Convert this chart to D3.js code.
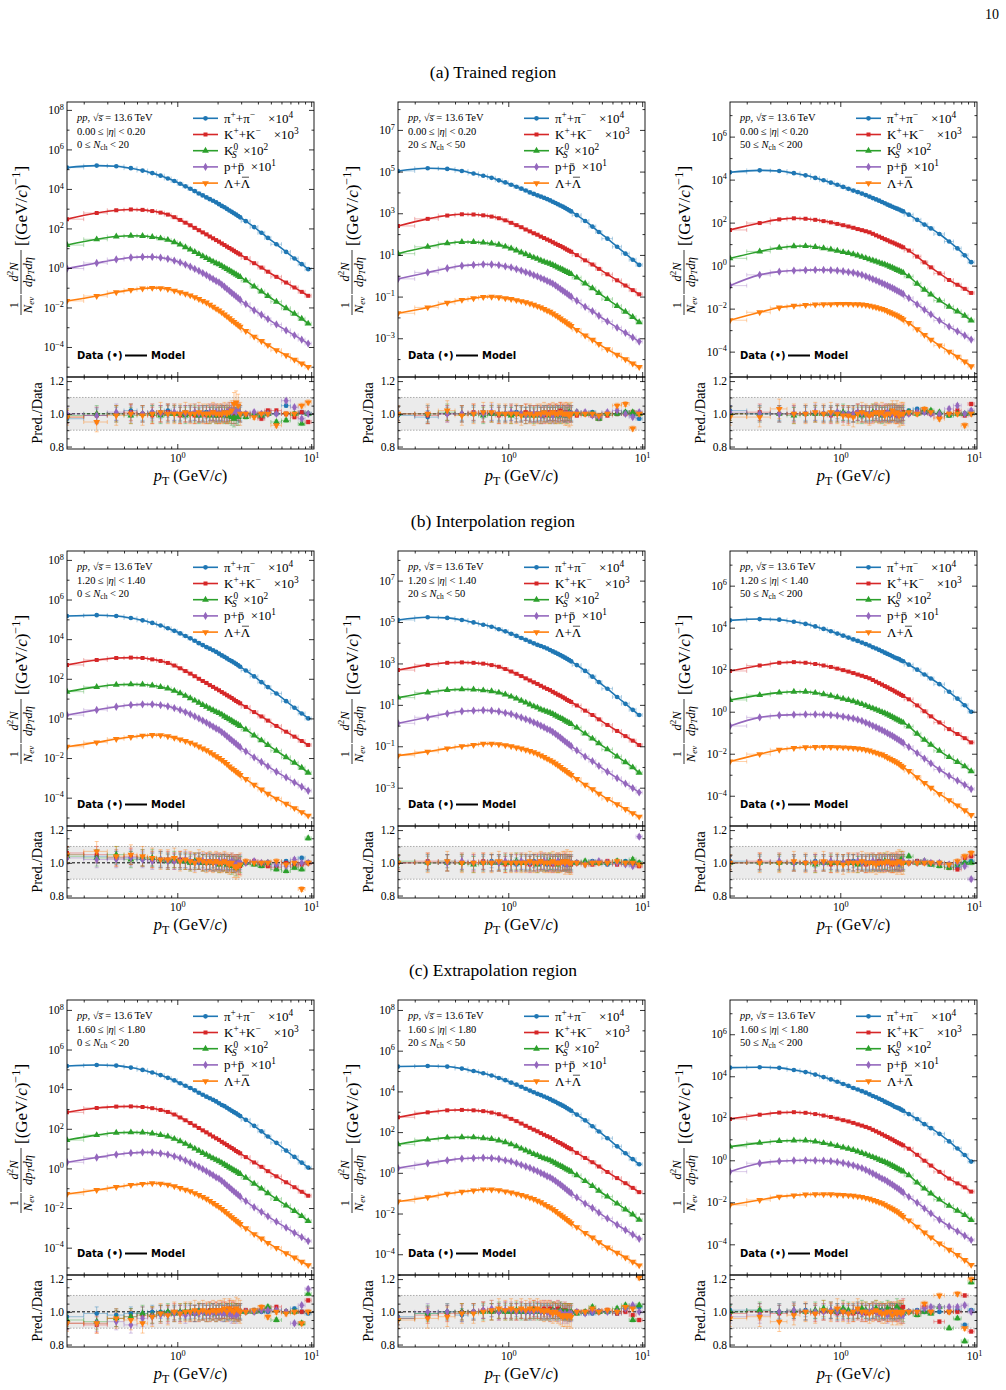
<!DOCTYPE html>
<html><head><meta charset="utf-8">
<script src="https://cdn.jsdelivr.net/npm/d3@7"></script>
<style>
body{margin:0;background:#fff;}
svg{white-space:pre;}
</style></head><body>
<svg id="fig" width="1006" height="1390"></svg>
<script>
// pT bin centres and edges (GeV/c)
const pT = [0.15,0.25,0.35,0.45,0.55,0.65,0.75,0.85,0.95,1.05,1.15,1.25,1.35,1.45,1.55,1.65,1.75,1.85,1.95,2.05,2.15,2.25,2.35,2.45,2.55,2.65,2.75,2.85,2.95,3.25,3.75,4.25,4.75,5.5,6.5,7.5,8.5,9.5];
const pTEdges = [0.1,0.2,0.3,0.4,0.5,0.6,0.7,0.8,0.9,1.0,1.1,1.2,1.3,1.4,1.5,1.6,1.7,1.8,1.9,2.0,2.1,2.2,2.3,2.4,2.5,2.6,2.7,2.8,2.9,3.0,3.5,4.0,4.5,5.0,6,7,8,9,10];

const speciesColors = ["#1f77b4","#d62728","#2ca02c","#9467bd","#ff7f0e"];
const regionTitles = ["(a) Trained region","(b) Interpolation region","(c) Extrapolation region"];
const etaRanges = [["0.00","0.20"],["1.20","1.40"],["1.60","1.80"]];
const nchRanges = [["0","20"],["20","50"],["50","200"]];
// log10 of the y-axis limits, [row][column]
const yLogMin = [[-5.52,-4.86,-5.18],[-5.43,-4.85,-5.44],[-5.38,-5.02,-5.46]];
const yLogMax = [[8.40,8.34,7.61],[8.45,8.43,7.65],[8.50,8.49,7.63]];
// which decades carry labels: 0 = even, 1 = odd
const yLabelOdd = [[0,1,0],[0,1,0],[0,0,0]];

// ---- log10 of the scaled yields (pi x1e4, K x1e3, K0s x1e2, p x10, Lambda) ----
// (a) trained region
const a1Pi  = [5.08,5.18,5.15,5.05,4.93,4.80,4.67,4.53,4.40,4.26, 4.13,4.01,3.89,3.77,3.67,3.57,3.48,3.40,3.32,3.23, 3.14,3.07,2.99,2.91,2.84,2.77,2.70,2.63,2.56,2.37, 2.07,1.78,1.52,1.20,0.81,0.48,0.19,-0.06];
const a1K   = [2.47,2.78,2.92,2.96,2.94,2.88,2.80,2.70,2.57,2.43, 2.29,2.16,2.03,1.91,1.80,1.70,1.59,1.50,1.41,1.33, 1.24,1.16,1.08,1.01,0.94,0.87,0.80,0.74,0.68,0.50, 0.24,0.02,-0.19,-0.45,-0.74,-0.99,-1.21,-1.41];
const a1K0s = [1.16,1.45,1.59,1.63,1.62,1.57,1.50,1.42,1.30,1.18, 1.05,0.93,0.81,0.70,0.59,0.50,0.40,0.32,0.24,0.18, 0.10,0.02,-0.06,-0.13,-0.20,-0.27,-0.33,-0.40,-0.46,-0.64, -0.94,-1.19,-1.42,-1.71,-2.04,-2.32,-2.57,-2.82];
const a1P   = [-0.03,0.25,0.43,0.53,0.56,0.56,0.52,0.46,0.37,0.28, 0.17,0.06,-0.05,-0.15,-0.26,-0.36,-0.47,-0.56,-0.66,-0.73, -0.84,-0.95,-1.06,-1.16,-1.26,-1.35,-1.44,-1.53,-1.61,-1.83, -2.14,-2.37,-2.59,-2.86,-3.16,-3.41,-3.63,-3.83];
const a1Lam = [-1.67,-1.42,-1.23,-1.11,-1.04,-1.01,-1.02,-1.07,-1.15,-1.23, -1.31,-1.39,-1.48,-1.57,-1.67,-1.75,-1.86,-1.96,-2.06,-2.15, -2.25,-2.35,-2.45,-2.55,-2.65,-2.73,-2.82,-2.90,-2.98,-3.19, -3.48,-3.70,-3.91,-4.16,-4.42,-4.64,-4.84,-5.01];
const a2Pi  = [5.03,5.16,5.13,5.03,4.91,4.80,4.70,4.58,4.48,4.37, 4.27,4.18,4.09,4.00,3.93,3.86,3.80,3.74,3.68,3.62, 3.55,3.49,3.43,3.37,3.32,3.26,3.20,3.14,3.09,2.91, 2.63,2.36,2.10,1.78,1.39,1.06,0.77,0.52];
const a2K   = [2.39,2.73,2.89,2.95,2.94,2.90,2.84,2.76,2.66,2.54, 2.43,2.33,2.22,2.13,2.04,1.97,1.88,1.81,1.74,1.68, 1.61,1.54,1.48,1.43,1.37,1.31,1.25,1.20,1.15,0.99, 0.74,0.54,0.33,0.07,-0.22,-0.47,-0.69,-0.89];
const a2K0s = [1.06,1.39,1.56,1.62,1.62,1.59,1.55,1.49,1.40,1.31, 1.21,1.12,1.03,0.95,0.87,0.81,0.73,0.67,0.62,0.58, 0.52,0.46,0.39,0.34,0.29,0.23,0.18,0.13,0.08,-0.09, -0.37,-0.60,-0.83,-1.12,-1.45,-1.73,-1.98,-2.23];
const a2P   = [-0.15,0.16,0.36,0.48,0.52,0.55,0.54,0.51,0.45,0.40, 0.32,0.25,0.17,0.11,0.03,-0.03,-0.11,-0.17,-0.25,-0.31, -0.38,-0.46,-0.55,-0.63,-0.71,-0.79,-0.86,-0.94,-1.00,-1.20, -1.49,-1.70,-1.92,-2.19,-2.49,-2.74,-2.96,-3.16];
const a2Lam = [-1.80,-1.52,-1.30,-1.16,-1.08,-1.02,-1.01,-1.03,-1.08,-1.12, -1.17,-1.22,-1.27,-1.33,-1.39,-1.46,-1.52,-1.60,-1.67,-1.73, -1.81,-1.89,-1.97,-2.05,-2.13,-2.20,-2.28,-2.34,-2.41,-2.60, -2.87,-3.07,-3.28,-3.53,-3.79,-4.01,-4.21,-4.38];
const a3Pi  = [4.34,4.43,4.40,4.30,4.20,4.08,3.97,3.86,3.76,3.66, 3.57,3.49,3.42,3.35,3.28,3.21,3.14,3.08,3.02,2.96, 2.90,2.84,2.79,2.74,2.69,2.65,2.61,2.56,2.52,2.37, 2.13,1.91,1.73,1.47,1.12,0.80,0.48,0.16];
const a3K   = [1.66,1.98,2.15,2.20,2.18,2.13,2.07,2.01,1.94,1.88, 1.82,1.76,1.70,1.65,1.60,1.55,1.48,1.41,1.35,1.29, 1.23,1.18,1.12,1.08,1.03,0.98,0.94,0.89,0.85,0.70, 0.42,0.15,-0.08,-0.36,-0.67,-0.89,-1.08,-1.27];
const a3K0s = [0.34,0.66,0.83,0.90,0.91,0.87,0.81,0.75,0.69,0.63, 0.58,0.53,0.47,0.41,0.35,0.29,0.24,0.19,0.14,0.09, 0.05,0.00,-0.05,-0.10,-0.15,-0.20,-0.24,-0.29,-0.33,-0.50, -0.84,-1.12,-1.34,-1.62,-1.91,-2.13,-2.33,-2.55];
const a3P   = [-0.93,-0.43,-0.28,-0.23,-0.21,-0.20,-0.20,-0.21,-0.23,-0.26, -0.30,-0.33,-0.38,-0.43,-0.50,-0.56,-0.63,-0.69,-0.75,-0.81, -0.87,-0.93,-0.99,-1.04,-1.10,-1.16,-1.21,-1.27,-1.32,-1.51, -1.80,-2.05,-2.27,-2.55,-2.84,-3.06,-3.25,-3.44];
const a3Lam = [-2.54,-2.17,-1.95,-1.87,-1.83,-1.81,-1.80,-1.79,-1.78,-1.78, -1.78,-1.79,-1.80,-1.81,-1.83,-1.86,-1.90,-1.94,-1.98,-2.01, -2.06,-2.12,-2.17,-2.22,-2.27,-2.32,-2.38,-2.44,-2.50,-2.67, -2.96,-3.22,-3.44,-3.71,-4.00,-4.24,-4.46,-4.68];
// (b) interpolation region
const b1Pi  = [5.17,5.21,5.17,5.07,4.95,4.82,4.69,4.55,4.42,4.29, 4.16,4.04,3.92,3.80,3.70,3.60,3.52,3.44,3.36,3.27, 3.18,3.11,3.03,2.95,2.89,2.82,2.75,2.68,2.61,2.42, 2.12,1.83,1.58,1.26,0.87,0.54,0.25,0.00];
const b1K   = [2.70,2.95,3.05,3.07,3.05,2.98,2.90,2.80,2.67,2.53, 2.39,2.26,2.13,2.00,1.89,1.79,1.68,1.59,1.50,1.42, 1.33,1.25,1.17,1.10,1.03,0.95,0.88,0.82,0.76,0.58, 0.32,0.10,-0.11,-0.38,-0.67,-0.92,-1.14,-1.34];
const b1K0s = [1.35,1.59,1.70,1.72,1.71,1.66,1.59,1.51,1.39,1.27, 1.14,1.02,0.90,0.79,0.68,0.59,0.49,0.41,0.33,0.27, 0.19,0.10,0.02,-0.05,-0.12,-0.19,-0.25,-0.32,-0.38,-0.56, -0.86,-1.11,-1.34,-1.63,-1.96,-2.24,-2.49,-2.74];
const b1P   = [0.17,0.43,0.59,0.68,0.71,0.71,0.67,0.61,0.52,0.43, 0.32,0.21,0.10,0.00,-0.11,-0.21,-0.32,-0.41,-0.51,-0.58, -0.69,-0.79,-0.90,-1.00,-1.10,-1.19,-1.28,-1.37,-1.45,-1.66, -1.97,-2.20,-2.42,-2.69,-2.98,-3.23,-3.45,-3.65];
const b1Lam = [-1.43,-1.21,-1.04,-0.94,-0.87,-0.84,-0.85,-0.90,-0.98,-1.06, -1.14,-1.22,-1.31,-1.42,-1.52,-1.60,-1.71,-1.81,-1.91,-2.00, -2.10,-2.20,-2.30,-2.42,-2.52,-2.60,-2.69,-2.77,-2.85,-3.06, -3.35,-3.59,-3.80,-4.05,-4.31,-4.53,-4.73,-4.91];
const b2Pi  = [5.10,5.23,5.20,5.10,4.98,4.87,4.77,4.65,4.55,4.43, 4.33,4.23,4.14,4.05,3.97,3.90,3.84,3.78,3.72,3.65, 3.58,3.52,3.46,3.40,3.34,3.28,3.22,3.16,3.10,2.92, 2.64,2.36,2.10,1.78,1.38,1.05,0.76,0.51];
const b2K   = [2.68,2.93,3.03,3.05,3.03,2.99,2.92,2.84,2.73,2.61, 2.50,2.39,2.28,2.18,2.09,2.01,1.92,1.84,1.77,1.71, 1.63,1.56,1.49,1.44,1.37,1.31,1.24,1.19,1.14,0.97, 0.72,0.51,0.30,0.03,-0.26,-0.51,-0.73,-0.94];
const b2K0s = [1.35,1.60,1.72,1.75,1.74,1.70,1.66,1.59,1.50,1.40, 1.30,1.20,1.11,1.02,0.93,0.87,0.78,0.72,0.67,0.62, 0.56,0.49,0.42,0.36,0.31,0.24,0.18,0.13,0.07,-0.10, -0.39,-0.63,-0.86,-1.15,-1.49,-1.77,-2.02,-2.28];
const b2P   = [0.11,0.40,0.58,0.69,0.72,0.74,0.72,0.68,0.61,0.56, 0.47,0.39,0.31,0.24,0.15,0.08,-0.01,-0.08,-0.17,-0.22, -0.31,-0.40,-0.49,-0.58,-0.67,-0.76,-0.84,-0.92,-0.99,-1.20, -1.50,-1.72,-1.95,-2.23,-2.54,-2.80,-3.02,-3.23];
const b2Lam = [-1.45,-1.26,-1.10,-1.00,-0.94,-0.88,-0.88,-0.90,-0.95,-1.00, -1.06,-1.11,-1.17,-1.23,-1.29,-1.36,-1.44,-1.52,-1.60,-1.67, -1.75,-1.83,-1.92,-2.00,-2.09,-2.16,-2.24,-2.31,-2.38,-2.58, -2.86,-3.07,-3.29,-3.54,-3.80,-4.03,-4.23,-4.40];
const b3Pi  = [4.35,4.41,4.38,4.28,4.18,4.06,3.94,3.83,3.72,3.62, 3.53,3.44,3.37,3.29,3.22,3.15,3.07,3.01,2.94,2.88, 2.81,2.75,2.70,2.64,2.58,2.54,2.50,2.44,2.40,2.24, 2.00,1.77,1.58,1.31,0.95,0.62,0.31,0.00];
const b3K   = [1.94,2.20,2.33,2.36,2.33,2.27,2.20,2.13,2.05,1.98, 1.91,1.84,1.77,1.71,1.65,1.59,1.51,1.43,1.36,1.29, 1.22,1.16,1.09,1.04,0.97,0.91,0.86,0.80,0.75,0.59, 0.30,0.02,-0.22,-0.51,-0.83,-1.06,-1.26,-1.46];
const b3K0s = [0.56,0.79,0.91,0.95,0.95,0.90,0.83,0.76,0.69,0.62, 0.56,0.50,0.43,0.36,0.29,0.22,0.16,0.10,0.04,-0.02, -0.07,-0.13,-0.19,-0.25,-0.31,-0.37,-0.42,-0.48,-0.52,-0.70, -1.05,-1.34,-1.57,-1.86,-2.16,-2.39,-2.60,-2.83];
const b3P   = [-0.68,-0.27,-0.17,-0.14,-0.13,-0.13,-0.14,-0.16,-0.19,-0.23, -0.28,-0.32,-0.38,-0.44,-0.52,-0.59,-0.67,-0.74,-0.81,-0.88, -0.95,-1.02,-1.09,-1.15,-1.22,-1.29,-1.35,-1.42,-1.48,-1.68, -1.97,-2.23,-2.46,-2.75,-3.05,-3.28,-3.48,-3.68];
const b3Lam = [-2.37,-2.02,-1.81,-1.73,-1.69,-1.68,-1.68,-1.68,-1.69,-1.70, -1.71,-1.73,-1.75,-1.77,-1.81,-1.85,-1.90,-1.95,-2.00,-2.04, -2.11,-2.18,-2.24,-2.30,-2.36,-2.42,-2.49,-2.57,-2.64,-2.82, -3.12,-3.39,-3.62,-3.91,-4.21,-4.46,-4.69,-4.92];
// (c) extrapolation region
const c1Pi  = [5.17,5.22,5.19,5.09,4.97,4.84,4.71,4.57,4.44,4.30, 4.17,4.06,3.94,3.82,3.72,3.62,3.54,3.46,3.38,3.29, 3.20,3.14,3.06,2.98,2.91,2.84,2.78,2.71,2.64,2.45, 2.15,1.87,1.61,1.29,0.90,0.58,0.29,0.04];
const c1K   = [2.83,3.05,3.12,3.13,3.10,3.04,2.95,2.85,2.72,2.57, 2.43,2.29,2.16,2.04,1.92,1.82,1.71,1.61,1.52,1.44, 1.34,1.26,1.18,1.10,1.03,0.96,0.88,0.82,0.76,0.57, 0.30,0.08,-0.14,-0.40,-0.70,-0.95,-1.18,-1.38];
const c1K0s = [1.43,1.68,1.80,1.82,1.81,1.76,1.69,1.61,1.49,1.37, 1.24,1.12,1.00,0.89,0.78,0.69,0.59,0.51,0.43,0.36, 0.28,0.20,0.12,0.05,-0.02,-0.09,-0.15,-0.22,-0.28,-0.47, -0.77,-1.02,-1.25,-1.54,-1.87,-2.15,-2.41,-2.66];
const c1P   = [0.31,0.55,0.70,0.78,0.81,0.81,0.76,0.70,0.61,0.52, 0.40,0.29,0.18,0.08,-0.04,-0.14,-0.25,-0.34,-0.45,-0.52, -0.63,-0.74,-0.86,-0.96,-1.06,-1.16,-1.25,-1.34,-1.42,-1.65, -1.96,-2.19,-2.42,-2.69,-2.99,-3.25,-3.47,-3.67];
const c1Lam = [-1.29,-1.09,-0.94,-0.84,-0.78,-0.75,-0.77,-0.82,-0.90,-0.99, -1.07,-1.15,-1.25,-1.34,-1.44,-1.53,-1.64,-1.75,-1.85,-1.94, -2.05,-2.15,-2.26,-2.36,-2.46,-2.55,-2.64,-2.72,-2.81,-3.02, -3.32,-3.54,-3.76,-4.01,-4.28,-4.50,-4.71,-4.88];
const c2Pi  = [5.22,5.25,5.22,5.12,5.00,4.89,4.78,4.66,4.55,4.43, 4.33,4.23,4.13,4.04,3.96,3.88,3.82,3.75,3.69,3.62, 3.55,3.49,3.42,3.36,3.30,3.24,3.17,3.11,3.05,2.86, 2.58,2.29,2.03,1.70,1.30,0.96,0.67,0.42];
const c2K   = [2.73,2.97,3.07,3.09,3.07,3.03,2.96,2.88,2.77,2.65, 2.54,2.42,2.31,2.21,2.12,2.04,1.95,1.87,1.80,1.74, 1.66,1.58,1.51,1.46,1.39,1.33,1.26,1.21,1.16,0.98, 0.73,0.52,0.31,0.04,-0.26,-0.51,-0.74,-0.95];
const c2K0s = [1.40,1.63,1.73,1.75,1.74,1.70,1.66,1.59,1.50,1.40, 1.30,1.19,1.10,1.01,0.92,0.86,0.77,0.71,0.66,0.61, 0.54,0.47,0.40,0.34,0.29,0.22,0.16,0.11,0.05,-0.12, -0.41,-0.65,-0.88,-1.17,-1.51,-1.80,-2.05,-2.31];
const c2P   = [0.23,0.47,0.61,0.70,0.72,0.74,0.72,0.68,0.61,0.56, 0.47,0.39,0.31,0.24,0.15,0.08,-0.01,-0.08,-0.17,-0.22, -0.31,-0.40,-0.49,-0.58,-0.67,-0.76,-0.85,-0.93,-1.00,-1.21, -1.51,-1.73,-1.96,-2.24,-2.55,-2.81,-3.03,-3.24];
const c2Lam = [-1.41,-1.20,-1.03,-0.93,-0.87,-0.82,-0.82,-0.85,-0.91,-0.97, -1.03,-1.09,-1.15,-1.22,-1.29,-1.37,-1.45,-1.54,-1.63,-1.70, -1.79,-1.88,-1.98,-2.06,-2.15,-2.23,-2.32,-2.39,-2.47,-2.67, -2.96,-3.18,-3.41,-3.67,-3.93,-4.16,-4.37,-4.55];
const c3Pi  = [4.41,4.43,4.40,4.30,4.20,4.08,3.96,3.85,3.74,3.63, 3.54,3.44,3.37,3.29,3.22,3.14,3.06,3.00,2.93,2.87, 2.79,2.73,2.68,2.62,2.55,2.51,2.47,2.41,2.36,2.20, 1.96,1.72,1.53,1.26,0.90,0.56,0.25,-0.06];
const c3K   = [1.97,2.17,2.27,2.29,2.26,2.20,2.13,2.06,1.98,1.91, 1.85,1.78,1.71,1.65,1.59,1.53,1.45,1.38,1.31,1.24, 1.17,1.11,1.04,0.99,0.92,0.86,0.81,0.76,0.71,0.55, 0.26,-0.02,-0.25,-0.55,-0.87,-1.10,-1.29,-1.49];
const c3K0s = [0.65,0.83,0.92,0.94,0.94,0.89,0.82,0.75,0.68,0.61, 0.55,0.49,0.42,0.35,0.28,0.21,0.15,0.09,0.03,-0.03, -0.08,-0.14,-0.20,-0.26,-0.32,-0.38,-0.43,-0.49,-0.53,-0.71, -1.06,-1.35,-1.58,-1.87,-2.17,-2.40,-2.61,-2.84];
const c3P   = [-0.54,-0.14,-0.04,-0.01,0.00,-0.01,-0.02,-0.04,-0.08,-0.13, -0.19,-0.24,-0.31,-0.37,-0.46,-0.54,-0.63,-0.71,-0.79,-0.87, -0.93,-1.01,-1.09,-1.16,-1.24,-1.31,-1.38,-1.46,-1.53,-1.74, -2.02,-2.29,-2.53,-2.83,-3.14,-3.38,-3.59,-3.79];
const c3Lam = [-2.13,-1.89,-1.73,-1.67,-1.63,-1.62,-1.62,-1.62,-1.64,-1.65, -1.67,-1.69,-1.72,-1.74,-1.79,-1.83,-1.89,-1.94,-2.00,-2.04, -2.11,-2.18,-2.25,-2.31,-2.38,-2.44,-2.52,-2.60,-2.68,-2.86, -3.16,-3.44,-3.67,-3.96,-4.26,-4.51,-4.75,-4.98];

// ---- Pred./Data ----
const a1PiR  = [0.97,0.99,1.00,1.02,1.00,1.01,1.01,1.02,1.00,1.00, 1.01,1.00,1.00,0.99,1.00,1.01,1.00,1.00,0.99,1.00, 1.00,1.01,0.99,1.00,1.01,1.02,1.00,0.99,1.00,1.00, 0.99,0.98,1.01,1.00,1.05,1.00,1.01,1.00];
const a1KR   = [0.98,0.99,1.00,1.01,1.00,0.99,1.00,1.01,1.00,0.99, 1.00,1.00,0.99,1.00,1.00,0.99,1.00,1.01,1.00,0.99, 1.00,1.00,0.99,1.00,0.99,0.99,0.98,1.01,1.00,0.99, 1.00,0.97,1.02,1.02,1.00,0.98,1.01,0.95];
const a1K0sR = [0.99,1.00,1.00,0.99,1.00,1.00,0.99,1.00,1.00,1.00, 0.99,1.00,1.00,0.99,1.00,1.00,0.99,1.00,0.99,1.00, 1.00,0.99,1.00,0.99,0.98,0.97,0.99,0.98,1.00,0.98, 1.00,0.99,1.00,0.95,0.96,1.00,0.94,1.00];
const a1PR   = [1.00,0.99,1.01,1.00,1.00,1.01,1.00,1.00,1.01,1.00, 1.00,1.00,1.01,1.00,1.00,1.00,1.01,1.00,1.01,1.00, 1.01,1.00,1.01,1.02,1.01,1.02,1.01,1.02,1.00,1.00, 1.01,1.00,1.00,1.00,1.08,1.04,0.97,1.00];
const a1LamR = [0.98,0.95,0.99,1.00,0.99,1.00,1.01,1.00,1.00,1.00, 1.01,1.00,1.00,1.01,1.00,1.00,1.00,1.01,1.00,1.00, 1.00,1.01,1.00,1.01,1.02,1.06,1.07,1.05,1.00,1.00, 0.98,1.00,1.00,0.93,1.00,1.00,1.05,1.07];
const a2PiR  = [0.99,0.98,1.00,1.00,1.00,1.01,1.00,1.00,1.00,1.00, 1.01,1.00,1.00,1.00,0.99,1.00,1.00,1.01,1.00,1.00, 1.00,1.00,1.01,1.00,1.00,0.99,1.00,1.01,1.00,1.00, 1.00,1.01,0.99,1.00,1.00,1.01,0.99,0.97];
const a2KR   = [1.00,0.99,1.00,1.00,1.01,1.00,1.00,0.99,1.00,1.00, 1.00,1.00,1.01,1.00,1.00,1.00,1.00,0.99,1.00,1.01, 1.00,1.01,1.00,1.02,1.01,1.00,1.01,1.00,1.00,0.99, 1.00,0.99,0.97,0.99,1.00,1.00,1.01,1.00];
const a2K0sR = [1.00,1.00,1.01,1.00,1.00,0.99,1.00,1.00,1.00,0.99, 1.00,1.00,0.99,1.00,0.99,1.00,0.99,1.00,1.00,0.99, 1.00,0.99,1.00,0.99,1.00,1.00,0.99,1.01,1.00,1.01, 1.00,1.00,0.97,1.00,1.00,1.01,1.01,1.00];
const a2PR   = [1.00,1.00,1.00,1.00,1.00,1.00,1.01,1.00,1.00,1.01, 1.00,1.00,0.99,1.00,1.00,1.00,0.99,1.00,1.00,1.00, 0.99,1.00,1.00,1.00,1.00,1.00,1.00,1.00,1.00,1.01, 1.01,0.99,0.98,1.01,1.02,1.00,0.98,1.01];
const a2LamR = [1.00,1.00,1.02,0.99,1.00,1.01,1.01,1.00,1.00,1.00, 1.00,0.99,1.00,1.00,0.99,1.00,1.00,1.01,1.00,1.00, 1.01,1.00,1.00,1.01,1.00,1.00,1.00,0.99,1.00,1.00, 1.00,1.00,0.99,1.00,1.05,1.06,0.91,1.00];
const a3PiR  = [1.02,1.00,1.00,1.00,1.00,1.00,1.00,1.00,1.01,1.00, 1.00,0.99,1.00,1.01,1.00,1.00,1.00,1.01,1.00,1.00, 1.00,1.00,0.99,1.00,1.00,1.01,1.00,1.00,1.00,1.02, 1.03,1.01,1.01,1.00,0.99,1.00,1.00,1.00];
const a3KR   = [1.00,1.01,1.00,1.00,1.00,1.00,1.00,0.99,1.00,1.00, 0.99,1.00,1.01,1.00,1.00,0.99,1.00,1.01,1.00,1.00, 1.01,1.00,1.00,1.01,1.00,0.99,1.00,1.00,1.01,1.00, 1.01,1.02,1.00,0.98,1.00,1.02,0.99,1.06];
const a3K0sR = [1.00,1.00,1.00,0.99,1.00,1.00,1.00,1.00,1.00,1.01, 1.00,1.00,1.00,0.99,1.00,1.00,1.01,1.00,1.00,0.99, 1.00,1.00,1.01,1.00,1.01,1.00,1.00,0.99,1.00,1.01, 1.00,1.02,1.02,1.01,0.99,1.00,1.00,1.01];
const a3PR   = [1.01,1.00,1.00,1.00,1.00,1.01,1.00,1.00,1.01,1.00, 1.00,1.00,1.01,1.00,1.00,1.00,1.00,1.01,1.00,1.00, 1.00,1.01,1.00,1.00,1.01,1.00,1.00,1.00,0.99,1.00, 1.01,1.01,1.00,1.00,1.03,1.05,1.00,1.02];
const a3LamR = [0.98,0.98,1.03,1.00,1.00,1.01,1.00,1.01,1.00,0.99, 0.99,0.98,1.00,1.01,1.00,0.99,1.00,1.01,1.00,1.01, 0.99,1.00,1.00,1.02,1.00,1.01,0.99,1.00,1.00,1.01, 1.00,1.03,1.01,0.97,1.00,1.00,0.93,1.00];
const b1PiR  = [1.05,1.04,1.03,1.03,1.02,1.02,1.02,1.01,1.01,1.01, 1.01,1.00,1.01,1.00,1.01,1.00,1.00,1.01,1.00,1.00, 1.00,1.01,1.00,1.00,1.00,0.99,1.00,0.99,1.00,1.00, 1.00,0.99,1.00,0.98,1.01,0.99,1.03,1.00];
const b1KR   = [1.06,1.05,1.03,1.04,1.03,1.02,1.02,1.02,1.01,1.02, 1.01,1.01,1.01,1.01,1.00,1.01,1.00,1.00,1.01,1.00, 1.00,1.00,0.99,1.00,0.99,0.99,1.00,0.98,0.98,1.00, 1.01,0.99,0.98,0.97,1.00,0.98,0.99,1.00];
const b1K0sR = [1.04,1.03,1.05,1.02,1.03,1.03,1.02,1.01,1.02,1.01, 1.01,1.00,1.01,1.01,1.00,1.00,1.01,1.00,1.00,0.99, 1.00,1.00,0.99,1.00,0.98,0.99,0.97,1.00,0.99,1.00, 0.99,0.98,1.00,0.96,0.95,0.97,0.96,1.15];
const b1PR   = [1.03,1.02,1.02,1.03,1.02,1.01,1.02,1.01,1.01,1.01, 1.02,1.01,1.00,1.01,1.01,1.00,1.01,1.00,1.00,1.01, 1.00,1.01,1.00,1.00,1.01,1.00,0.99,1.00,1.00,1.00, 1.01,1.00,1.00,0.99,0.98,1.02,1.00,1.00];
const b1LamR = [1.05,1.07,1.04,1.05,1.04,1.03,1.02,1.02,1.03,1.01, 1.02,1.01,1.00,1.02,1.01,1.00,1.01,1.00,1.01,1.00, 1.00,1.01,1.00,0.99,1.00,0.98,0.97,0.98,0.99,1.01, 1.00,1.00,1.00,1.01,0.99,1.00,0.84,1.00];
const b2PiR  = [1.00,1.00,1.01,1.00,1.00,1.00,1.01,1.00,1.00,1.00, 0.99,1.00,1.00,1.00,1.01,1.00,1.00,1.00,0.99,1.00, 1.00,1.00,1.00,1.01,1.00,0.99,1.00,1.00,1.00,1.00, 1.00,1.01,1.00,0.99,1.00,1.01,0.99,1.00];
const b2KR   = [1.00,1.01,1.00,1.00,1.00,1.01,1.00,1.00,0.99,1.00, 1.00,1.00,1.00,0.99,1.00,1.00,1.01,1.00,1.00,1.00, 0.99,1.00,1.00,1.00,1.00,1.01,1.00,1.00,0.99,1.00, 1.00,0.99,1.00,1.01,0.99,1.00,1.00,0.98];
const b2K0sR = [1.01,1.00,1.00,1.00,0.99,1.00,1.00,1.00,1.00,1.00, 1.01,1.00,1.00,1.00,1.00,0.99,1.00,1.00,1.00,1.01, 1.00,1.00,0.99,1.00,1.00,1.00,1.00,0.99,1.00,1.00, 1.01,1.00,1.00,1.00,1.01,1.00,1.02,1.00];
const b2PR   = [1.00,1.00,1.00,1.01,1.00,1.00,1.00,1.00,1.01,1.00, 1.00,1.01,1.00,1.00,1.00,1.00,1.00,1.01,1.00,1.00, 1.00,1.00,1.01,1.00,1.00,1.00,0.99,1.00,1.00,1.00, 0.99,1.00,1.01,1.00,1.00,0.99,0.98,1.16];
const b2LamR = [1.00,1.00,1.01,1.00,1.00,1.00,1.00,1.01,1.00,1.00, 1.00,1.00,1.00,1.01,1.00,1.00,1.01,1.00,1.00,1.00, 1.01,1.00,1.00,1.00,1.01,1.00,1.01,1.00,1.00,1.00, 0.99,1.00,1.00,1.00,1.01,1.00,1.00,0.99];
const b3PiR  = [1.01,1.00,1.00,1.00,1.00,1.01,1.00,1.00,1.00,1.00, 1.00,1.01,1.00,1.00,1.00,1.00,1.00,1.00,0.99,1.00, 1.00,1.00,1.01,1.00,1.00,1.00,0.99,1.00,1.00,1.00, 1.01,1.00,0.99,1.00,0.98,0.97,1.00,1.01];
const b3KR   = [1.00,1.01,1.00,1.00,1.00,1.00,1.00,0.99,1.00,1.00, 1.01,1.00,1.00,1.00,0.99,1.00,1.00,1.00,1.01,1.00, 1.00,1.00,1.00,0.99,1.00,1.01,1.00,1.00,1.00,1.00, 1.01,1.00,1.00,0.99,0.97,0.96,1.03,1.04];
const b3K0sR = [1.00,1.00,1.00,1.00,1.00,0.99,1.00,1.00,1.00,1.00, 1.00,1.00,0.99,1.00,1.00,1.00,1.00,1.00,1.00,1.00, 1.01,1.00,1.00,1.00,1.00,1.00,1.00,1.02,1.00,1.04, 1.00,1.01,0.99,0.98,0.97,0.99,1.00,1.00];
const b3PR   = [1.00,1.00,1.01,1.00,1.00,1.00,1.00,1.01,1.00,1.00, 1.00,1.00,1.01,1.00,1.00,1.00,1.01,1.00,1.00,1.00, 1.00,1.00,1.00,1.01,1.00,1.00,1.00,1.00,1.01,1.00, 1.00,1.01,1.00,1.00,0.99,1.00,0.98,0.90];
const b3LamR = [1.00,1.00,1.00,1.01,1.00,1.00,1.01,1.00,1.00,0.99, 1.00,1.00,1.00,1.01,1.00,1.00,1.00,0.99,1.00,1.00, 1.00,1.01,1.00,1.00,1.00,1.00,1.01,1.00,1.00,1.00, 1.00,1.00,1.00,1.00,0.99,1.01,1.04,1.06];
const c1PiR  = [0.97,0.99,0.98,0.99,0.99,1.00,1.00,1.00,0.99,1.00, 1.00,1.00,1.00,1.01,1.00,1.00,1.00,1.01,1.00,1.00, 1.00,1.00,1.01,1.00,1.00,1.00,1.01,1.00,1.00,1.00, 1.01,1.00,1.00,1.01,1.00,1.02,1.00,0.99];
const c1KR   = [0.93,0.92,0.96,0.97,0.98,0.98,0.99,0.99,1.00,0.99, 1.00,1.00,0.99,1.00,1.00,1.00,1.01,1.00,1.01,1.00, 1.01,1.01,1.00,1.02,1.01,1.01,1.00,1.00,1.00,1.01, 1.00,1.01,1.02,1.03,1.00,1.00,1.00,1.07];
const c1K0sR = [0.95,0.94,0.96,0.97,0.99,0.98,0.99,1.00,0.99,1.00, 1.00,1.00,0.99,1.00,1.00,0.99,1.00,1.00,0.99,1.00, 1.00,0.99,1.00,1.00,1.00,0.99,1.00,0.99,1.00,1.00, 1.00,1.01,1.03,0.95,1.00,1.00,0.93,1.11];
const c1PR   = [0.93,0.93,0.94,0.92,0.96,0.97,0.98,0.98,0.99,0.99, 0.98,0.99,0.99,0.99,1.00,0.99,0.99,1.00,0.99,1.00, 0.99,0.99,1.00,0.99,0.98,0.99,0.98,0.99,1.00,1.00, 1.00,1.01,1.01,1.01,1.00,0.93,1.04,1.14];
const c1LamR = [0.93,0.93,0.96,0.95,0.93,0.97,0.99,0.98,1.00,0.99, 1.00,1.00,1.01,1.00,1.01,1.00,1.00,1.01,1.00,1.01, 1.01,1.02,1.00,1.02,1.01,1.00,1.02,1.01,1.00,1.00, 1.01,1.03,0.97,1.00,0.99,1.00,0.93,1.00];
const c2PiR  = [0.97,0.99,1.00,0.98,1.00,1.00,1.01,1.00,1.00,1.00, 1.01,1.00,1.00,1.00,1.00,1.01,1.00,1.00,1.00,1.00, 1.00,1.01,1.00,1.00,1.00,0.99,1.00,1.00,0.99,1.00, 0.99,0.99,1.00,1.00,0.99,1.02,1.03,1.03];
const c2KR   = [0.96,0.98,0.99,1.00,1.00,1.01,1.00,1.00,1.01,1.00, 1.00,1.01,1.00,1.01,1.02,1.01,1.01,1.02,1.01,1.02, 1.01,1.01,1.02,1.01,1.00,1.01,1.00,1.00,1.00,1.00, 1.00,1.01,1.00,1.01,0.99,1.00,0.98,0.95];
const c2K0sR = [0.96,0.99,1.00,1.00,1.00,1.00,1.00,1.01,1.00,1.00, 1.01,1.00,1.00,1.00,1.01,1.00,1.00,1.00,1.00,1.00, 1.01,1.00,1.00,1.01,1.00,1.00,1.00,0.99,1.00,0.99, 1.00,1.03,1.00,1.00,1.02,1.04,0.95,1.04];
const c2PR   = [0.96,1.00,1.00,0.99,1.00,1.01,1.02,1.00,1.01,1.01, 1.00,1.01,1.00,1.00,1.00,1.01,1.00,1.00,1.00,0.99, 1.00,1.00,0.99,1.00,0.98,0.99,0.98,0.99,0.99,1.00, 0.99,1.00,1.00,1.00,1.00,1.02,1.04,1.00];
const c2LamR = [0.95,0.96,0.97,0.99,0.99,1.00,1.01,1.02,1.01,1.02, 1.01,1.02,1.01,1.02,1.01,1.02,1.01,1.00,1.01,1.00, 0.99,1.00,0.99,0.98,0.97,0.98,0.97,0.98,0.97,1.00, 1.00,1.02,1.00,1.01,1.00,1.03,1.02,1.21];
const c3PiR  = [1.01,1.01,1.00,1.00,1.01,1.00,1.00,1.00,1.01,1.00, 1.00,1.00,1.00,1.01,1.00,1.00,1.00,1.00,1.01,1.00, 1.00,1.00,1.01,1.00,1.00,1.00,1.00,1.01,1.00,1.00, 1.01,1.00,1.00,1.00,1.00,1.01,0.92,1.01];
const c3KR   = [0.99,1.00,0.99,1.00,1.00,0.99,1.00,1.00,0.99,1.00, 1.00,0.99,1.00,1.00,0.99,1.00,1.00,1.00,0.99,1.00, 1.00,0.99,1.00,1.01,1.00,0.99,1.00,1.02,1.03,1.00, 0.99,1.03,1.00,0.94,1.00,1.00,1.10,0.88];
const c3K0sR = [1.00,1.01,1.00,1.01,1.00,1.01,1.02,1.01,1.00,1.02, 1.01,1.00,1.01,1.02,1.01,1.00,1.01,1.02,1.00,1.01, 1.00,1.02,1.01,1.00,1.00,1.03,1.01,1.00,0.99,1.00, 0.98,1.00,0.99,1.03,0.90,0.96,0.82,1.18];
const c3PR   = [0.97,0.98,1.00,1.01,1.00,1.00,1.00,1.01,1.00,1.00, 0.99,1.00,1.01,0.99,1.00,1.00,1.01,1.00,0.99,1.00, 1.00,0.98,1.00,0.99,1.00,1.00,0.99,0.98,0.98,1.00, 1.00,1.02,1.03,1.03,1.03,1.03,1.04,1.00];
const c3LamR = [0.96,0.97,0.94,0.98,1.00,0.99,1.01,1.00,1.02,1.00, 0.99,1.00,1.02,1.00,1.00,0.99,1.00,1.01,1.00,0.99, 0.99,1.00,1.00,0.98,1.00,0.99,1.00,0.99,1.00,1.00, 1.00,1.05,1.00,1.10,1.00,1.11,0.90,1.20];

// relative data uncertainties per species
const errPi  = [0.03,0.04,0.04,0.04,0.04,0.04,0.04,0.04,0.04,0.04, 0.04,0.04,0.04,0.04,0.04,0.04,0.04,0.04,0.04,0.04, 0.04,0.04,0.04,0.04,0.04,0.04,0.04,0.04,0.04,0.01, 0.01,0.01,0.01,0.01,0.01,0.01,0.01,0.01];
const errK   = [0.04,0.05,0.05,0.05,0.05,0.05,0.05,0.05,0.05,0.05, 0.05,0.05,0.05,0.05,0.05,0.05,0.05,0.05,0.05,0.05, 0.05,0.05,0.05,0.05,0.05,0.05,0.05,0.05,0.05,0.012, 0.012,0.012,0.012,0.012,0.012,0.012,0.012,0.012];
const errK0s = [0.04,0.05,0.05,0.05,0.05,0.05,0.05,0.05,0.05,0.05, 0.05,0.05,0.05,0.05,0.05,0.05,0.05,0.05,0.05,0.05, 0.05,0.05,0.05,0.05,0.05,0.05,0.05,0.05,0.05,0.012, 0.012,0.012,0.012,0.012,0.012,0.012,0.012,0.012];
const errP   = [0.04,0.05,0.05,0.05,0.05,0.05,0.05,0.05,0.05,0.05, 0.05,0.05,0.05,0.05,0.05,0.05,0.05,0.05,0.05,0.05, 0.05,0.05,0.05,0.05,0.05,0.05,0.05,0.05,0.05,0.012, 0.012,0.012,0.012,0.012,0.012,0.012,0.012,0.012];
const errLam = [0.05,0.06,0.06,0.06,0.06,0.06,0.06,0.06,0.06,0.06, 0.06,0.06,0.06,0.06,0.06,0.06,0.06,0.06,0.06,0.06, 0.06,0.06,0.06,0.06,0.06,0.07,0.07,0.07,0.07,0.015, 0.015,0.015,0.015,0.015,0.015,0.015,0.015,0.015];
const relErr = [errPi, errK, errK0s, errP, errLam];

const spectra = {
  a1: [a1Pi, a1K, a1K0s, a1P, a1Lam], a2: [a2Pi, a2K, a2K0s, a2P, a2Lam], a3: [a3Pi, a3K, a3K0s, a3P, a3Lam],
  b1: [b1Pi, b1K, b1K0s, b1P, b1Lam], b2: [b2Pi, b2K, b2K0s, b2P, b2Lam], b3: [b3Pi, b3K, b3K0s, b3P, b3Lam],
  c1: [c1Pi, c1K, c1K0s, c1P, c1Lam], c2: [c2Pi, c2K, c2K0s, c2P, c2Lam], c3: [c3Pi, c3K, c3K0s, c3P, c3Lam]
};
const ratios = {
  a1: [a1PiR, a1KR, a1K0sR, a1PR, a1LamR], a2: [a2PiR, a2KR, a2K0sR, a2PR, a2LamR], a3: [a3PiR, a3KR, a3K0sR, a3PR, a3LamR],
  b1: [b1PiR, b1KR, b1K0sR, b1PR, b1LamR], b2: [b2PiR, b2KR, b2K0sR, b2PR, b2LamR], b3: [b3PiR, b3KR, b3K0sR, b3PR, b3LamR],
  c1: [c1PiR, c1KR, c1K0sR, c1PR, c1LamR], c2: [c2PiR, c2KR, c2K0sR, c2PR, c2LamR], c3: [c3PiR, c3KR, c3K0sR, c3PR, c3LamR]
};

// ---------- layout ----------
const W = 247, HM = 275, HR = 72;
const colX = [67, 398, 730];
const rowY = [102, 551, 1000];
const serif = "'Liberation Serif','DejaVu Serif',serif";
const sans = "'DejaVu Sans',sans-serif";

const svg = d3.select("#fig");
const defs = svg.append("defs");

// text with super/subscripts: parts = [[string, kind, dx]]
function rich(t, parts, fs) {
  let shift = 0;
  parts.forEach(([s, k, dx]) => {
    const target = k.includes("sup") ? -0.38 * fs : k.includes("sub") ? 0.22 * fs : 0;
    const ts = t.append("tspan").text(s);
    if (target - shift !== 0) ts.attr("dy", target - shift);
    if (k.includes("sup") || k.includes("sub")) ts.attr("font-size", fs * 0.72);
    if (k.includes("i")) ts.attr("font-style", "italic");
    if (dx) ts.attr("dx", dx);
    shift = target;
  });
  return t;
}

const symbols = [d3.symbolCircle, d3.symbolSquare, d3.symbolTriangle, d3.symbolDiamond, d3.symbolTriangle];
const symbolRot = [0, 0, 0, 0, 180];
const symbolSize = [17, 16, 20, 20, 20];
function marker(sel, k, cx, cy) {
  sel.append("path").attr("d", d3.symbol(symbols[k], symbolSize[k])())
    .attr("transform", `translate(${cx},${cy}) rotate(${symbolRot[k]})`)
    .attr("fill", speciesColors[k]);
}

function errorbar(g, xc, yc, xl, xh, yt, yb) {
  const seg = (a, b, c, d) => g.append("line").attr("x1", a).attr("y1", b).attr("x2", c).attr("y2", d);
  seg(xl, yc, xh, yc);
  seg(xc, yt, xc, yb);
  seg(xl, yc - 2, xl, yc + 2);
  seg(xh, yc - 2, xh, yc + 2);
  seg(xc - 2, yt, xc + 2, yt);
  seg(xc - 2, yb, xc + 2, yb);
}

function axisG(axis, tx, ty) {
  const g = svg.append("g").attr("transform", `translate(${tx},${ty})`).call(axis);
  g.select(".domain").remove();
  g.attr("font-family", serif).attr("font-size", 11.5);
  g.selectAll("line").attr("stroke", "#000").attr("stroke-width", 0.8);
  return g;
}

function powLabels(g) {
  g.selectAll(".tick text").each(function(d) {
    const e = Math.round(Math.log10(d));
    const t = d3.select(this).text(null).attr("fill", "#000");
    rich(t, [["10", ""], [String(e).replace("-", "\u2212"), "sup"]], 11.5);
  });
}

const xMajor = [1, 10];
const xMinor = [0.2,0.3,0.4,0.5,0.6,0.7,0.8,0.9,2,3,4,5,6,7,8,9];

// legend labels; bar = [character index carrying an overbar, height of the bar above baseline in em]
const legendParts = [
  [["\u03C0", ""], ["+", "sup"], ["+\u03C0", ""], ["\u2212", "sup"], ["\u2003\u00D710", ""], ["4", "sup"]],
  [["K", ""], ["+", "sup"], ["+K", ""], ["\u2212", "sup"], ["\u2003\u00D710", ""], ["3", "sup"]],
  [["K", ""], ["0", "sup"], ["S", "isub", -6], ["\u2002\u00D710", ""], ["2", "sup"]],
  [["p+p", ""], ["\u2002\u00D710", ""], ["1", "sup"]],
  [["\u039B+\u039B", ""]]
];
const legendBar = [null, null, null, [2, 0.58], [2, 0.8]];

function drawPanel(r, c) {
  const x0 = colX[c], y0 = rowY[r], key = "abc"[r] + (c + 1);
  const x = d3.scaleLog().domain([0.15, 10.5]).range([x0, x0 + W]);
  const y = d3.scaleLog().domain([Math.pow(10, yLogMin[r][c]), Math.pow(10, yLogMax[r][c])]).range([y0 + HM, y0]);
  const yr = d3.scaleLinear().domain([0.785, 1.225]).range([y0 + HM + HR, y0 + HM]);

  defs.append("clipPath").attr("id", "m" + key).append("rect")
    .attr("x", x0).attr("y", y0).attr("width", W).attr("height", HM);
  defs.append("clipPath").attr("id", "r" + key).append("rect")
    .attr("x", x0).attr("y", y0 + HM).attr("width", W).attr("height", HR);

  // spectra
  const main = svg.append("g").attr("clip-path", `url(#m${key})`);
  spectra[key].forEach((vals, k) => {
    const eb = main.append("g").attr("stroke", speciesColors[k]).attr("stroke-opacity", 0.35).attr("stroke-width", 1);
    vals.forEach((lv, i) => {
      const v = Math.pow(10, lv), e = relErr[k][i];
      errorbar(eb, x(pT[i]), y(v), x(pTEdges[i]), x(pTEdges[i + 1]), y(v * (1 + e)), y(v * (1 - e)));
    });
  });
  spectra[key].forEach((vals, k) => {
    main.append("path").datum(vals).attr("fill", "none")
      .attr("stroke", speciesColors[k]).attr("stroke-width", 1.6)
      .attr("d", d3.line().x((d, i) => x(pT[i])).y(d => y(Math.pow(10, d))).curve(d3.curveMonotoneX));
    vals.forEach((lv, i) => marker(main, k, x(pT[i]), y(Math.pow(10, lv))));
  });

  // ratio
  const rat = svg.append("g").attr("clip-path", `url(#r${key})`);
  rat.append("rect").attr("x", x0).attr("width", W)
    .attr("y", yr(1.1)).attr("height", yr(0.9) - yr(1.1)).attr("fill", "#ebebeb");
  [0.9, 1.1].forEach(v => rat.append("line").attr("x1", x0).attr("x2", x0 + W)
    .attr("y1", yr(v)).attr("y2", yr(v)).attr("stroke", "#999").attr("stroke-width", 0.8)
    .attr("stroke-dasharray", "1.5,1.5"));
  rat.append("line").attr("x1", x0).attr("x2", x0 + W).attr("y1", yr(1)).attr("y2", yr(1))
    .attr("stroke", "#000").attr("stroke-width", 1).attr("stroke-dasharray", "3,2");
  ratios[key].forEach((vals, k) => {
    const eb = rat.append("g").attr("stroke", speciesColors[k]).attr("stroke-opacity", 0.4).attr("stroke-width", 1);
    vals.forEach((v, i) => {
      const e = relErr[k][i];
      errorbar(eb, x(pT[i]), yr(v), x(pTEdges[i]), x(pTEdges[i + 1]), yr(v + e), yr(v - e));
    });
  });
  ratios[key].forEach((vals, k) => vals.forEach((v, i) => marker(rat, k, x(pT[i]), yr(v))));

  // frames
  [[y0, HM], [y0 + HM, HR]].forEach(([yy, hh]) => svg.append("rect")
    .attr("x", x0).attr("y", yy).attr("width", W).attr("height", hh)
    .attr("fill", "none").attr("stroke", "#000").attr("stroke-width", 0.9));

  // x ticks
  [y0, y0 + HM].forEach(yy => {
    axisG(d3.axisTop(x).tickValues(xMajor).tickSize(-5).tickFormat(""), 0, yy);
    axisG(d3.axisTop(x).tickValues(xMinor).tickSize(-2.5).tickFormat(""), 0, yy);
  });
  axisG(d3.axisBottom(x).tickValues(xMajor).tickSize(-5).tickFormat(""), 0, y0 + HM);
  axisG(d3.axisBottom(x).tickValues(xMinor).tickSize(-2.5).tickFormat(""), 0, y0 + HM);
  axisG(d3.axisBottom(x).tickValues(xMinor).tickSize(-2.5).tickFormat(""), 0, y0 + HM + HR);
  const xb = axisG(d3.axisBottom(x).tickValues(xMajor).tickSize(-5).tickPadding(5), 0, y0 + HM + HR);
  powLabels(xb);

  // y ticks of the spectra
  const lo = Math.ceil(yLogMin[r][c]), hi = Math.floor(yLogMax[r][c]);
  const yMaj = [], yMin = [];
  for (let e = lo; e <= hi; e++) ((Math.abs(e) % 2) === yLabelOdd[r][c] ? yMaj : yMin).push(Math.pow(10, e));
  const yl = axisG(d3.axisLeft(y).tickValues(yMaj).tickSize(-5).tickPadding(3), x0, 0);
  powLabels(yl);
  axisG(d3.axisLeft(y).tickValues(yMin).tickSize(-2.5).tickFormat(""), x0, 0);
  axisG(d3.axisRight(y).tickValues(yMaj).tickSize(-5).tickFormat(""), x0 + W, 0);
  axisG(d3.axisRight(y).tickValues(yMin).tickSize(-2.5).tickFormat(""), x0 + W, 0);

  // y ticks of the ratio
  const rMaj = [0.8, 1.0, 1.2], rMin = [0.85, 0.9, 0.95, 1.05, 1.1, 1.15];
  axisG(d3.axisLeft(yr).tickValues(rMaj).tickSize(-5).tickPadding(3).tickFormat(d3.format(".1f")), x0, 0)
    .selectAll("text").attr("fill", "#000");
  axisG(d3.axisLeft(yr).tickValues(rMin).tickSize(-2.5).tickFormat(""), x0, 0);
  axisG(d3.axisRight(yr).tickValues(rMaj).tickSize(-5).tickFormat(""), x0 + W, 0);
  axisG(d3.axisRight(yr).tickValues(rMin).tickSize(-2.5).tickFormat(""), x0 + W, 0);

  // annotation
  const ann = svg.append("g").attr("font-family", serif).attr("font-size", 10.5);
  rich(ann.append("text").attr("x", x0 + 10).attr("y", y0 + 19),
    [["pp", "i"], [", \u221A", ""], ["s\u0305", "i"], [" = 13.6 TeV", ""]], 10.5);
  rich(ann.append("text").attr("x", x0 + 10).attr("y", y0 + 33),
    [[etaRanges[r][0] + " \u2264 |", ""], ["\u03B7", "i"], ["| < " + etaRanges[r][1], ""]], 10.5);
  rich(ann.append("text").attr("x", x0 + 10).attr("y", y0 + 46),
    [[nchRanges[c][0] + " \u2264 ", ""], ["N", "i"], ["ch", "sub"], [" < " + nchRanges[c][1], ""]], 10.5);

  // legend
  legendParts.forEach((parts, k) => {
    const ly = y0 + 16.3 + 16.2 * k;
    svg.append("line").attr("x1", x0 + 126).attr("x2", x0 + 151).attr("y1", ly).attr("y2", ly)
      .attr("stroke", speciesColors[k]).attr("stroke-width", 1.6);
    marker(svg, k, x0 + 138.5, ly);
    const t = rich(svg.append("text").attr("x", x0 + 157).attr("y", ly + 4.5)
      .attr("font-family", serif).attr("font-size", 13), parts, 13);
    if (legendBar[k]) {
      const ext = t.node().getExtentOfChar(legendBar[k][0]);
      const by = ly + 4.5 - 13 * legendBar[k][1];
      svg.append("line").attr("x1", ext.x + 1.2).attr("x2", ext.x + ext.width - 1.2)
        .attr("y1", by).attr("y2", by).attr("stroke", "#000").attr("stroke-width", 0.7);
    }
  });

  // data / model key
  svg.append("text").attr("x", x0 + 10).attr("y", y0 + 257).attr("font-family", sans)
    .attr("font-weight", "bold").attr("font-size", 10).text("Data (\u2022)");
  svg.append("line").attr("x1", x0 + 58).attr("x2", x0 + 80).attr("y1", y0 + 253.5).attr("y2", y0 + 253.5)
    .attr("stroke", "#000").attr("stroke-width", 2);
  svg.append("text").attr("x", x0 + 84).attr("y", y0 + 257).attr("font-family", sans)
    .attr("font-weight", "bold").attr("font-size", 10).text("Model");

  // y label of spectra
  const yg = svg.append("g").attr("transform", `translate(${x0 - 46},${y0 + 136}) rotate(-90)`)
    .attr("font-family", serif).attr("font-size", 12.5);
  yg.append("text").attr("x", -67).attr("y", -3).attr("text-anchor", "middle").text("1");
  yg.append("line").attr("x1", -77).attr("x2", -57).attr("y1", 0).attr("y2", 0).attr("stroke", "#000").attr("stroke-width", 0.8);
  rich(yg.append("text").attr("x", -67).attr("y", 10.5).attr("text-anchor", "middle"), [["N", "i"], ["ev", "isub"]], 12.5);
  rich(yg.append("text").attr("x", -34).attr("y", -3).attr("text-anchor", "middle"), [["d", "i"], ["2", "sup"], ["N", "i"]], 12.5);
  yg.append("line").attr("x1", -56).attr("x2", -12).attr("y1", 0).attr("y2", 0).attr("stroke", "#000").attr("stroke-width", 0.8);
  rich(yg.append("text").attr("x", -34).attr("y", 10.5).attr("text-anchor", "middle"), [["dp", "i"], ["T", "isub"], ["d\u03B7", "i"]], 12.5);
  rich(yg.append("text").attr("x", -8).attr("y", 5.5).attr("font-size", 17),
    [["[(GeV/", ""], ["c", "i"], [")", ""], ["\u22121", "sup"], ["]", ""]], 17);

  // ratio label
  svg.append("text").attr("transform", `translate(${x0 - 25},${y0 + HM + HR / 2}) rotate(-90)`)
    .attr("text-anchor", "middle").attr("font-family", serif).attr("font-size", 14.5).text("Pred./Data");

  // x label
  rich(svg.append("text").attr("x", x0 + W / 2).attr("y", y0 + 379).attr("text-anchor", "middle")
    .attr("font-family", serif).attr("font-size", 16.5),
    [["p", "i"], ["T", "sub"], [" (GeV/", ""], ["c", "i"], [")", ""]], 16.5);
}

regionTitles.forEach((title, r) => {
  svg.append("text").attr("x", 493).attr("y", rowY[r] - 24).attr("text-anchor", "middle")
    .attr("font-family", serif).attr("font-size", 17.5).text(title);
  for (let c = 0; c < 3; c++) drawPanel(r, c);
});

svg.append("text").attr("x", 999).attr("y", 19).attr("text-anchor", "end")
  .attr("font-family", serif).attr("font-size", 14).text("10");
</script>
</body></html>
